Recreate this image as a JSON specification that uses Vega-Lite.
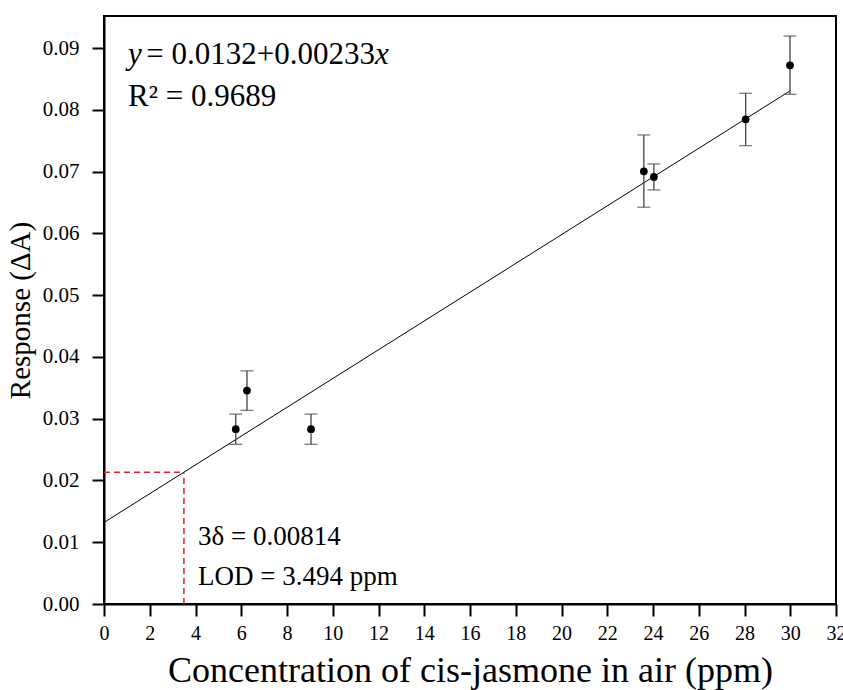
{
  "$schema": "https://vega.github.io/schema/vega-lite/v6.json",
  "autosize": {"type": "none"},
  "padding": {"left": 104, "top": 16, "right": 7, "bottom": 86},
  "width": 732,
  "height": 588,
  "background": "white",
  "config": {
    "view": {"stroke": "black", "strokeWidth": 2},
    "font": "Liberation Serif",
    "axis": {
      "domainColor": "black",
      "domainWidth": 2,
      "tickColor": "black",
      "tickWidth": 2,
      "grid": false,
      "labelFont": "Liberation Serif",
      "titleFont": "Liberation Serif",
      "labelColor": "black",
      "titleColor": "black",
      "titleFontWeight": "normal"
    }
  },
  "datasets": {
    "pts": [
      {"conc": 5.76, "resp": 0.0283, "lo": 0.02585, "hi": 0.03075},
      {"conc": 6.25, "resp": 0.03456, "lo": 0.03135, "hi": 0.03775},
      {"conc": 9.05, "resp": 0.0283, "lo": 0.02585, "hi": 0.03075},
      {"conc": 23.6, "resp": 0.07006, "lo": 0.06424, "hi": 0.07594},
      {"conc": 24.04, "resp": 0.06914, "lo": 0.06704, "hi": 0.07125},
      {"conc": 28.05, "resp": 0.07848, "lo": 0.07421, "hi": 0.08269},
      {"conc": 29.99, "resp": 0.08722, "lo": 0.08252, "hi": 0.09196}
    ],
    "fit": [
      {"conc": 0, "resp": 0.0132},
      {"conc": 30, "resp": 0.0831}
    ],
    "lod": [
      {"x1": 0, "x2": 3.494, "y1": 0.02134, "y2": 0.02134},
      {"x1": 3.494, "x2": 3.494, "y1": 0, "y2": 0.02134}
    ],
    "italic": [
      {"tx": 1.05, "ty": 0.0875, "t": "y"},
      {"tx": 11.85, "ty": 0.0875, "t": "x"}
    ],
    "plain": [
      {"tx": 1.85, "ty": 0.0875, "t": "= 0.0132+0.00233"},
      {"tx": 1.05, "ty": 0.0806, "t": "R² = 0.9689"}
    ],
    "lodtext": [
      {"tx": 4.11, "ty": 0.0096, "t": "3δ = 0.00814"},
      {"tx": 4.11, "ty": 0.0031, "t": "LOD = 3.494 ppm"}
    ]
  },
  "layer": [
    {
      "data": {"name": "fit"},
      "mark": {"type": "line", "color": "black", "strokeWidth": 1},
      "encoding": {
        "x": {
          "field": "conc", "type": "quantitative",
          "scale": {"domain": [0, 32], "nice": false, "zero": false},
          "axis": {
            "values": [0,1,2,3,4,5,6,7,8,9,10,11,12,13,14,15,16,17,18,19,20,21,22,23,24,25,26,27,28,29,30,31,32],
            "tickSize": {"condition": {"test": "datum.value % 2 == 0", "value": 12}, "value": 6},
            "labelExpr": "datum.value % 2 == 0 ? datum.label : ''",
            "labelFontSize": 20,
            "labelPadding": 7,
            "labelFlush": false,
            "labelOverlap": false,
            "title": "Concentration of cis-jasmone in air (ppm)",
            "titleFontSize": 36,
            "titlePadding": 10
          }
        },
        "y": {
          "field": "resp", "type": "quantitative",
          "scale": {"domain": [0, 0.0952], "nice": false, "zero": false},
          "axis": {
            "values": [0,0.005,0.01,0.015,0.02,0.025,0.03,0.035,0.04,0.045,0.05,0.055,0.06,0.065,0.07,0.075,0.08,0.085,0.09],
            "format": ".2f",
            "tickSize": {"condition": {"test": "round(datum.value*1000) % 10 == 0", "value": 12}, "value": 6},
            "labelExpr": "round(datum.value*1000) % 10 == 0 ? datum.label : ''",
            "labelFontSize": 21,
            "labelPadding": 13,
            "labelFlush": false,
            "labelOverlap": false,
            "title": "Response (ΔA)",
            "titleFontSize": 29,
            "titlePadding": 7
          }
        }
      }
    },
    {
      "data": {"name": "lod"},
      "mark": {"type": "rule", "color": "#ee1c25", "strokeWidth": 1.5, "strokeDash": [6, 4]},
      "encoding": {
        "x": {"field": "x1", "type": "quantitative"},
        "x2": {"field": "x2"},
        "y": {"field": "y1", "type": "quantitative"},
        "y2": {"field": "y2"}
      }
    },
    {
      "data": {"name": "pts"},
      "mark": {"type": "rule", "color": "#444444", "strokeWidth": 1.3},
      "encoding": {
        "x": {"field": "conc", "type": "quantitative"},
        "y": {"field": "lo", "type": "quantitative"},
        "y2": {"field": "hi"}
      }
    },
    {
      "data": {"name": "pts"},
      "mark": {"type": "tick", "orient": "horizontal", "color": "#444444", "thickness": 1.3, "size": 13},
      "encoding": {
        "x": {"field": "conc", "type": "quantitative"},
        "y": {"field": "lo", "type": "quantitative"}
      }
    },
    {
      "data": {"name": "pts"},
      "mark": {"type": "tick", "orient": "horizontal", "color": "#444444", "thickness": 1.3, "size": 13},
      "encoding": {
        "x": {"field": "conc", "type": "quantitative"},
        "y": {"field": "hi", "type": "quantitative"}
      }
    },
    {
      "data": {"name": "pts"},
      "mark": {"type": "point", "filled": true, "color": "black", "opacity": 1, "size": 60},
      "encoding": {
        "x": {"field": "conc", "type": "quantitative"},
        "y": {"field": "resp", "type": "quantitative"}
      }
    },
    {
      "data": {"name": "italic"},
      "mark": {"type": "text", "align": "left", "baseline": "alphabetic", "font": "Liberation Serif", "fontStyle": "italic", "fontSize": 31, "color": "black"},
      "encoding": {
        "x": {"field": "tx", "type": "quantitative"},
        "y": {"field": "ty", "type": "quantitative"},
        "text": {"field": "t"}
      }
    },
    {
      "data": {"name": "plain"},
      "mark": {"type": "text", "align": "left", "baseline": "alphabetic", "font": "Liberation Serif", "fontSize": 31, "color": "black"},
      "encoding": {
        "x": {"field": "tx", "type": "quantitative"},
        "y": {"field": "ty", "type": "quantitative"},
        "text": {"field": "t"}
      }
    },
    {
      "data": {"name": "lodtext"},
      "mark": {"type": "text", "align": "left", "baseline": "alphabetic", "font": "Liberation Serif", "fontSize": 27, "color": "black"},
      "encoding": {
        "x": {"field": "tx", "type": "quantitative"},
        "y": {"field": "ty", "type": "quantitative"},
        "text": {"field": "t"}
      }
    }
  ]
}
